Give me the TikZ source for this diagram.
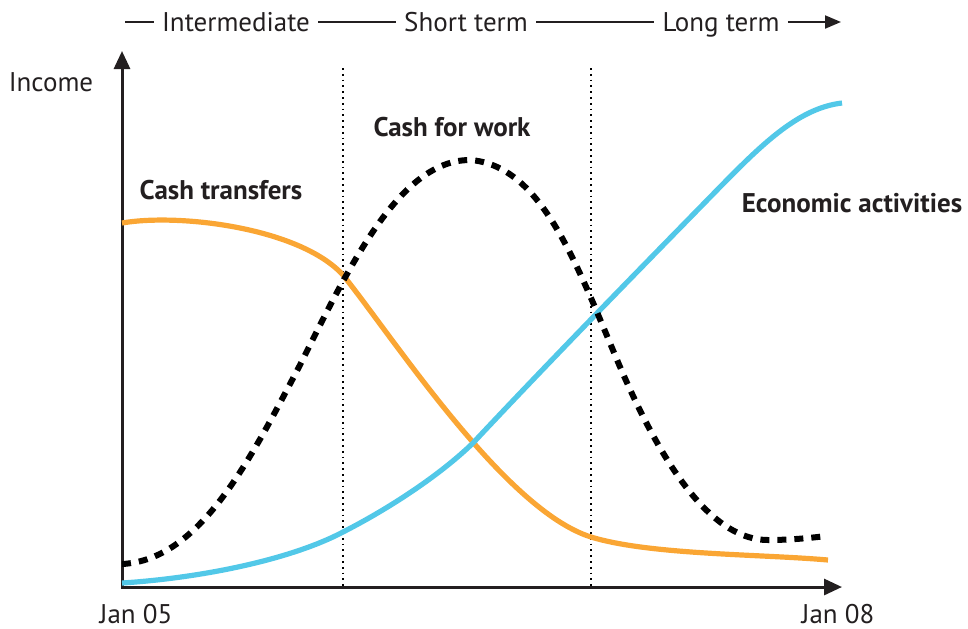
\documentclass[tikz,border=0pt]{standalone}
\usepackage{fontspec}
\setmainfont{PT Sans}
\usepackage{tikz}
\usetikzlibrary{arrows.meta}
\definecolor{transorange}{RGB}{250,166,52}
\definecolor{ecoblue}{RGB}{82,200,232}
\definecolor{inkgrey}{RGB}{35,31,32}
\tikzstyle{axis} = [line width=1.5pt, inkgrey, -{Triangle[length=9pt,width=8pt]}]
\tikzstyle{phase} = [line width=0.9pt, dotted]
\tikzstyle{txt} = [font=\fontsize{13.5}{15}\selectfont, text=inkgrey,
text height=9.4pt, text depth=0pt]
\tikzstyle{curvetxt} = [txt, font=\fontsize{13.5}{15}\selectfont\bfseries]
\tikzstyle{stage} = [txt, inner xsep=4pt, inner ysep=0pt]
\tikzstyle{timeline} = [line width=1pt, inkgrey]
\tikzstyle{income} = [line width=2.6pt]

\begin{document}
\begin{tikzpicture}[x=0.5pt, y=-0.5pt]
\useasboundingbox (0,0) rectangle (968,628);

% timeline on top
\coordinate (hstart) at (125,22);
\coordinate (hend) at (841,22);
\node(inter)[stage] at (236,22) {Intermediate};
\node(short)[stage] at (466,22) {Short term};
\node(long)[stage] at (721,22) {Long term};
\draw[timeline] (hstart) -- (inter);
\draw[timeline] (inter) -- (short);
\draw[timeline] (short) -- (long);
\draw[timeline, -{Triangle[length=8pt,width=6.5pt]}] (long) -- (hend);

% axes
\coordinate (origin) at (122,587);
\coordinate (ytop) at (122,51);
\coordinate (xleft) at (121,587);
\coordinate (xend) at (842,587);
\draw[axis] (origin) -- (ytop);
\draw[axis] (xleft) -- (xend);
\node(incometxt)[txt] at (51,82) {Income};
\node(jan05)[txt] at (136,614) {Jan 05};
\node(jan08)[txt] at (838,614) {Jan 08};

% phase borders
\draw[phase] (343,68) -- (343,587);
\draw[phase] (591,68) -- (591,587);

% curves
\draw[income, transorange] (122,223)
.. controls (180,213) and (300,228) .. (343,275)
.. controls (395,340) and (505,510) .. (591,537)
.. controls (650,555) and (760,554) .. (828,560);
\draw[income, ecoblue] (122,583)
.. controls (200,578) and (290,560) .. (343,532)
.. controls (390,508) and (440,475) .. (473,443)
.. controls (560,350) and (680,228) .. (720,187)
.. controls (765,141) and (800,108) .. (842,103);
\draw[black, line width=3pt, dash pattern=on 4.5pt off 4pt] (122,564)
.. controls (200,560) and (250,460) .. (300,365)
.. controls (350,265) and (400,160) .. (470,160)
.. controls (540,165) and (575,260) .. (615,355)
.. controls (665,475) and (715,540) .. (768,540)
.. controls (790,540) and (810,538) .. (826,536);

\node(transfers)[curvetxt] at (221,190) {Cash transfers};
\node(work)[curvetxt] at (452,127) {Cash for work};
\node(eco)[curvetxt] at (852,203) {Economic activities};

\end{tikzpicture}
\end{document}
